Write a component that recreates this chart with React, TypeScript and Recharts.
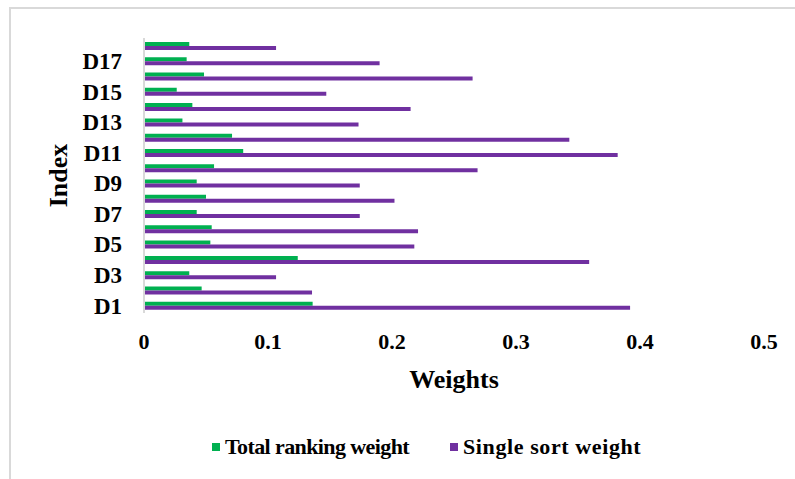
import { Bar, BarChart, XAxis, YAxis } from "recharts";

const categories = [
  "D1", "D2", "D3", "D4", "D5", "D6", "D7", "D8", "D9",
  "D10", "D11", "D12", "D13", "D14", "D15", "D16", "D17", "D18",
];

const totalRankingWeight = [
  0.136, 0.0465, 0.0365, 0.124, 0.0535, 0.0546, 0.0425, 0.05, 0.0425,
  0.0565, 0.08, 0.071, 0.031, 0.039, 0.0264, 0.0484, 0.0344, 0.0365,
];

const singleSortWeight = [
  0.392, 0.1355, 0.1065, 0.359, 0.218, 0.221, 0.174, 0.202, 0.174,
  0.269, 0.382, 0.343, 0.173, 0.215, 0.147, 0.265, 0.19, 0.1065,
];

const xTicks = [0, 0.1, 0.2, 0.3, 0.4, 0.5];

const GREEN = "#00B050";
const PURPLE = "#7030A0";
const FONT = '"Liberation Serif", "Times New Roman", serif';

const rows = categories.map((name, i) => ({
  name,
  total: totalRankingWeight[i],
  single: singleSortWeight[i],
}));

function IndexLabel({ viewBox }: any) {
  const cx = viewBox.x + 58;
  const cy = viewBox.y + viewBox.height / 2;
  return (
    <text
      x={cx}
      y={cy}
      transform={`rotate(-90 ${cx} ${cy})`}
      textAnchor="middle"
      dominantBaseline="central"
      fontFamily={FONT}
      fontWeight="bold"
      fontSize={26}
      fill="#000"
    >
      Index
    </text>
  );
}

function LegendItem({
  color,
  label,
  left,
  spacing,
}: {
  color: string;
  label: string;
  left: number;
  spacing: number;
}) {
  return (
    <div
      style={{
        position: "absolute",
        left,
        top: 434,
        display: "flex",
        alignItems: "center",
        gap: 5,
        fontFamily: FONT,
        fontWeight: "bold",
        fontSize: 22,
        letterSpacing: spacing,
        color: "#000",
        whiteSpace: "nowrap",
      }}
    >
      <span style={{ width: 8, height: 8, background: color, display: "inline-block" }} />
      {label}
    </div>
  );
}

export default function App() {
  return (
    <div
      style={{
        position: "absolute",
        left: 0,
        top: 0,
        width: 795,
        height: 479,
        background: "#fff",
        overflow: "hidden",
      }}
    >
      {/* chart frame, runs off the right and bottom edges */}
      <div
        style={{
          position: "absolute",
          left: 9,
          top: 7,
          width: 820,
          height: 500,
          border: "2px solid #d9d9d9",
        }}
      />
      <BarChart
        width={795}
        height={479}
        data={rows}
        layout="vertical"
        margin={{ top: 38, right: 31, bottom: 0, left: 0 }}
        barSize={4}
        barGap={0}
        style={{ position: "absolute", left: 0, top: 0 }}
      >
        <XAxis
          type="number"
          domain={[0, 0.5]}
          ticks={xTicks}
          height={166}
          axisLine={false}
          tickLine={false}
          tickSize={0}
          tickMargin={20}
          tick={{ fill: "#000", fontSize: 22, fontWeight: "bold", fontFamily: FONT }}
          label={{
            value: "Weights",
            position: "insideTop",
            offset: 57,
            fill: "#000",
            fontSize: 26,
            fontWeight: "bold",
            fontFamily: FONT,
          }}
        />
        <YAxis
          type="category"
          dataKey="name"
          reversed
          width={144}
          interval={1}
          axisLine={{ stroke: "#d9d9d9", strokeWidth: 2 }}
          tickLine={false}
          tickSize={0}
          tickMargin={22}
          tick={{ fill: "#000", fontSize: 23, fontWeight: "bold", fontFamily: FONT }}
          label={<IndexLabel />}
        />
        <Bar dataKey="total" name="Total ranking weight" fill={GREEN} isAnimationActive={false} />
        <Bar dataKey="single" name="Single sort weight" fill={PURPLE} isAnimationActive={false} />
      </BarChart>
      <LegendItem color={GREEN} label="Total ranking weight" left={212} spacing={-0.6} />
      <LegendItem color={PURPLE} label="Single sort weight" left={450} spacing={0.6} />
    </div>
  );
}
